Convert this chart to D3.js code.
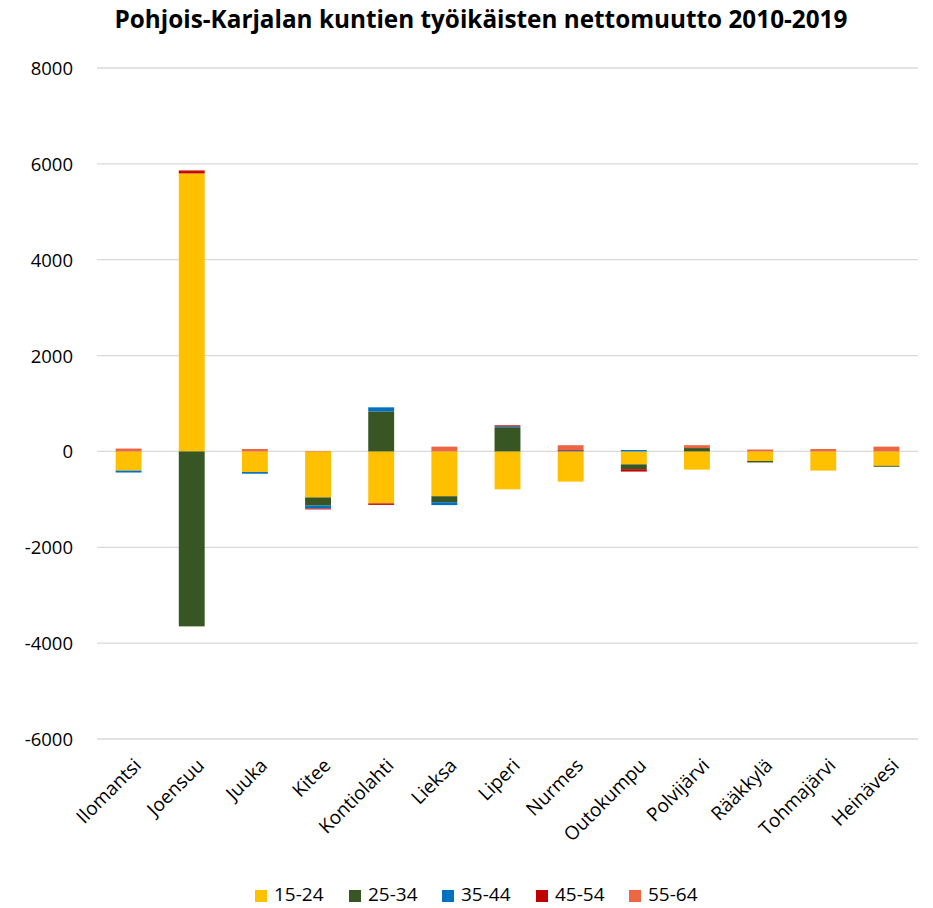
<!DOCTYPE html>
<html><head><meta charset="utf-8">
<script src="https://cdn.jsdelivr.net/npm/d3@7"></script>
<style>body{margin:0;background:#fff}svg{display:block}text{font-family:"Open Sans","Noto Sans",sans-serif}</style>
</head><body><svg id="c" width="933" height="908"></svg>
<script>
const categories = ["Ilomantsi","Joensuu","Juuka","Kitee","Kontiolahti","Lieksa","Liperi","Nurmes","Outokumpu","Polvijärvi","Rääkkylä","Tohmajärvi","Heinävesi"];
const seriesNames = ["15-24","25-34","35-44","45-54","55-64"];
const seriesColors = ["#FFC000","#375623","#0070C0","#C00000","#EB6642"];
const v15_24 = [-400, 5800, -430, -960, -1085, -935, -790, -630, -270, -380, -200, -400, -300];
const v25_34 = [0, -3650, 0, -170, 835, -125, 505, 0, -100, 70, -30, 0, -20];
const v35_44 = [-40, 0, -35, -60, 85, -60, 20, 15, 30, 0, 0, 0, 0];
const v45_54 = [0, 50, 0, -20, -30, 0, 20, 15, -50, 0, 0, 0, 0];
const v55_64 = [60, 20, 50, 10, 0, 100, 0, 100, 0, 60, 40, 50, 100];
const yTicks = [-6000,-4000,-2000,0,2000,4000,6000,8000];
const title = "Pohjois-Karjalan kuntien työikäisten nettomuutto 2010-2019";

const values = [v15_24, v25_34, v35_44, v45_54, v55_64];
const svg = d3.select("#c");
const x = d3.scaleBand().domain(categories).range([97, 918]).paddingInner(0.59).paddingOuter(0.295);
const y = d3.scaleLinear().domain([-6000, 8000]).range([739, 68]);

// grid
svg.append("g").selectAll("line").data(yTicks).join("line")
  .attr("x1", 97).attr("x2", 918).attr("y1", d => y(d)).attr("y2", d => y(d))
  .attr("stroke", "#d9d9d9").attr("stroke-width", 1.3);

// y axis labels
const yAxis = d3.axisLeft(y).tickValues(yTicks).tickSize(0).tickPadding(0).tickFormat(d => String(d));
const ya = svg.append("g").attr("transform", "translate(73,0)").call(yAxis);
ya.select(".domain").remove();
ya.selectAll("text").attr("font-size", 18.5).attr("fill", "#000").attr("dy", "0.35em");

// stacked bars (diverging)
const posBase = categories.map(() => 0), negBase = categories.map(() => 0);
const rects = [];
values.forEach((vals, si) => {
  vals.forEach((v, i) => {
    if (v === 0) return;
    let y0, y1;
    if (v > 0) { y0 = posBase[i]; y1 = y0 + v; posBase[i] = y1; }
    else { y0 = negBase[i]; y1 = y0 + v; negBase[i] = y1; }
    rects.push({cat: categories[i], y0, y1, color: seriesColors[si]});
  });
});
svg.append("g").selectAll("rect").data(rects).join("rect")
  .attr("x", d => x(d.cat)).attr("width", x.bandwidth())
  .attr("y", d => y(Math.max(d.y0, d.y1))).attr("height", d => Math.abs(y(d.y0) - y(d.y1)))
  .attr("fill", d => d.color);

// x labels
const xAxis = d3.axisBottom(x).tickSize(0).tickPadding(0);
const xa = svg.append("g").attr("transform", "translate(0,762)").call(xAxis);
xa.select(".domain").remove();
xa.selectAll("text").attr("font-size", 19).attr("fill", "#000")
  .attr("text-anchor", "end").attr("dy", "0.35em").attr("transform", "translate(9,0) rotate(-45)");

// title
svg.append("text").attr("x", 481).attr("y", 28).attr("text-anchor", "middle")
  .attr("font-size", 24.3).attr("font-weight", "bold").attr("fill", "#000").text(title);

// legend
const lg = svg.append("g");
const legX = [255, 349, 442, 536, 629];
seriesNames.forEach((n, i) => {
  lg.append("rect").attr("x", legX[i]).attr("y", 890).attr("width", 12).attr("height", 12).attr("fill", seriesColors[i]);
  lg.append("text").attr("x", legX[i] + 19).attr("y", 895).attr("dy", "0.32em").attr("font-size", 19).attr("fill", "#000").text(n);
});
</script></body></html>
